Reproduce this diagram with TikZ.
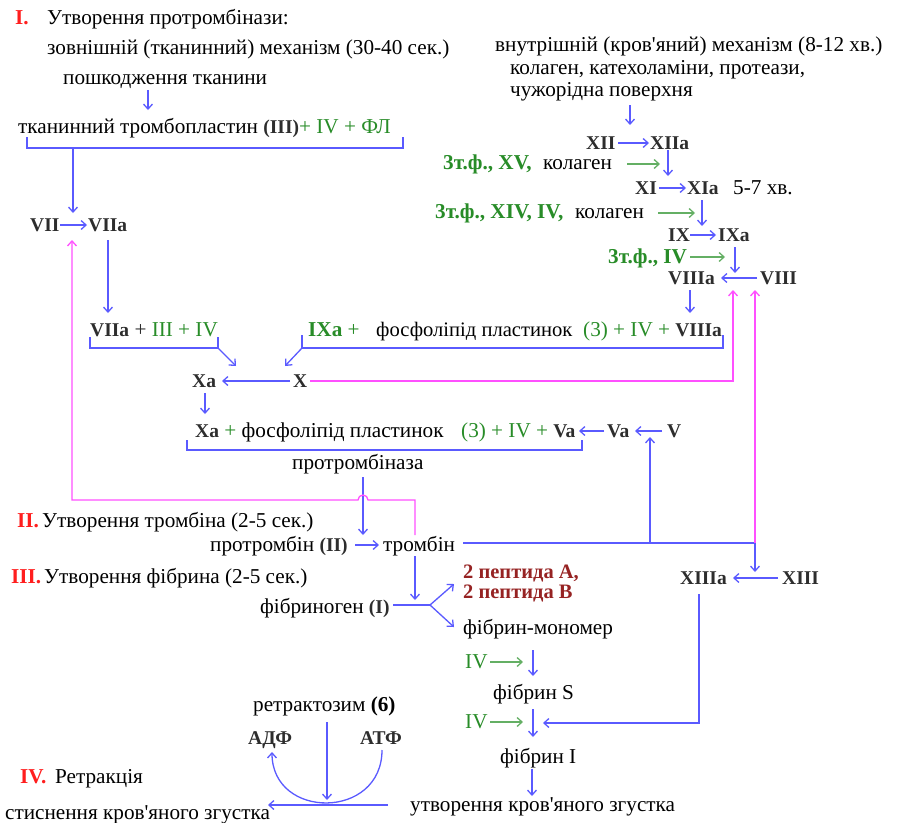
\documentclass[tikz,border=0pt]{standalone}
\usepackage{fontspec}
\setmainfont{Liberation Serif}
\usetikzlibrary{arrows.meta}
\definecolor{bl}{RGB}{90,90,255}
\definecolor{pk}{RGB}{255,80,255}
\definecolor{gn}{RGB}{40,140,40}
\definecolor{gna}{RGB}{100,175,100}
\definecolor{rd}{RGB}{255,30,30}
\definecolor{drd}{RGB}{150,35,35}
\definecolor{dg}{RGB}{45,45,45}
\newcommand{\rn}[1]{{\fontsize{19.5}{22}\selectfont\textbf{\textcolor{dg}{#1}}}}
\newcommand{\gr}[1]{\textcolor{gn}{#1}}
\newcommand{\gb}[1]{\textcolor{gn}{\textbf{#1}}}
\newcommand{\ap}{\textquotesingle}
\begin{document}
\begin{tikzpicture}[x=1pt,y=-1pt,
 tx/.style={anchor=base west, inner sep=0pt, font=\fontsize{21.2}{24}\selectfont},
 ba/.style={draw=bl, line width=1.3pt, -{Straight Barb[length=5pt,width=9pt]}},
 bline/.style={draw=bl, line width=1.3pt},
 pa/.style={draw=pk, line width=1.3pt, -{Straight Barb[length=5pt,width=9pt]}},
 pline/.style={draw=pk, line width=1.3pt},
 ga/.style={draw=gna, line width=1.3pt, -{Straight Barb[length=5pt,width=9pt]}},
]
\useasboundingbox (0,0) rectangle (902,822);
% ---------- stage I, extrinsic
\node[tx] (sI) at (15,24) {\textcolor{rd}{\textbf{I.}}};
\node[tx] (tI) at (47,24) {Утворення протромбінази:};
\node[tx] (ext) at (47,54) {зовнішній (тканинний) механізм (30-40 сек.)};
\node[tx] (dmg) at (63,84) {пошкодження тканини};
\node[tx] (tpl) at (18,133) {тканинний тромбопластин \rn{(III)}\gr{ + IV + ФЛ}};
\coordinate (d1) at (148,90); \coordinate (d2) at (148,110);
\draw[ba] (d1) -- (d2);
\coordinate (b1) at (27,137); \coordinate (b2) at (403,137);
\draw[bline] (b1) -- (27,148) -- (403,148) -- (b2);
\coordinate (s1) at (73,148); \coordinate (s2) at (73,213);
\draw[ba] (s1) -- (s2);
\node[tx] (VII) at (30,231) {\rn{VII}};
\node[tx] (VIIa) at (88,231) {\rn{VIIa}};
\draw[ba] (60,225) -- (87,225);
\coordinate (v1) at (108,240); \coordinate (v2) at (108,313);
\draw[ba] (v1) -- (v2);
% ---------- complexes
\node[tx] (c7) at (90,336) {\rn{VIIa} \textcolor{dg}{+} \gr{III + IV}};
\draw[bline] (90,337) -- (90,348) -- (218,348) -- (218,337);
\coordinate (c7a) at (218,348); \coordinate (c7b) at (236,366);
\draw[ba] (c7a) -- (c7b);
\node[tx] (c9a) at (308,336) {\gb{IXa} \gr{+}};
\node[tx, font=\fontsize{20.6}{24}\selectfont] (c9b) at (376,336) {фосфоліпід пластинок};
\node[tx] (c9c) at (583,336) {\gr{(3) + IV +} \rn{VIIIa}};
\draw[bline] (302,335) -- (302,348) -- (723,348) -- (723,335);
\coordinate (c9x) at (302,348); \coordinate (c9y) at (285,366);
\draw[ba] (c9x) -- (c9y);
\node[tx] (Xa) at (192,387) {\rn{Xa}};
\node[tx] (X) at (293,387) {\rn{X}};
\draw[ba] (290,381) -- (222,381);
\coordinate (p8) at (733,290);
\draw[pa] (310,381) -- (733,381) -- (p8);
\coordinate (xa1) at (205,393); \coordinate (xa2) at (205,414);
\draw[ba] (xa1) -- (xa2);
\node[tx] (pxa) at (195,437) {\rn{Xa} \gr{+} фосфоліпід пластинок};
\node[tx] (pxb) at (461,437) {\gr{(3) + IV +} \rn{Va}};
\node[tx] (Va) at (607,437) {\rn{Va}};
\node[tx] (V) at (667,437) {\rn{V}};
\draw[ba] (604,431) -- (579,431);
\draw[ba] (662,431) -- (635,431);
\draw[bline] (187,440) -- (187,450) -- (582,450) -- (582,440);
\node[tx] (ptb) at (292,469) {протромбіназа};
\coordinate (pt1) at (363,477); \coordinate (pt2) at (363,535);
\draw[ba] (pt1) -- (pt2);
% pink feedback to VII (with a small jump over the blue line)
\coordinate (pv) at (72,240);
\draw[pa] (415,535) -- (415,500) -- (368,500) arc[start angle=0, end angle=180, radius=5pt] -- (72,500) -- (pv);
% ---------- stage II
\node[tx] (sII) at (17,527) {\textcolor{rd}{\textbf{II.}}};
\node[tx] (tII) at (42,527) {Утворення тромбіна (2-5 сек.)};
\node[tx] (prt) at (210,551) {протромбін \rn{(II)}};
\node[tx] (thr) at (383,551) {тромбін};
\draw[ba] (355,545) -- (379,545);
% ---------- stage III
\node[tx] (sIII) at (11,583) {\textcolor{rd}{\textbf{III.}}};
\node[tx] (tIII) at (44,583) {Утворення фібрина (2-5 сек.)};
\coordinate (t1) at (463,543); \coordinate (t2) at (755,543); \coordinate (t3) at (650,543);
\draw[bline] (t1) -- (t2);
\draw[ba] (t3) -- (650,437);
\draw[pa] (t2) -- (755,290);
\draw[ba] (t2) -- (755,572);
\draw[ba] (415,556) -- (415,600);
\node[tx] (fbg) at (260,613) {фібриноген \rn{(I)}};
\coordinate (f1) at (393,605); \coordinate (f2) at (430,605);
\draw[bline] (f1) -- (f2);
\draw[ba] (f2) -- (454,584);
\draw[ba] (f2) -- (454,627);
\node[tx, font=\fontsize{20.5}{24}\selectfont] (pep1) at (463,578) {\textcolor{drd}{\textbf{2 пептида А,}}};
\node[tx, font=\fontsize{20.5}{24}\selectfont] (pep2) at (463,598) {\textcolor{drd}{\textbf{2 пептида В}}};
\node[tx] (fm) at (463,634) {фібрин-мономер};
\node[tx] (XIIIa) at (680,584) {\rn{XIIIa}};
\node[tx] (XIII) at (782,584) {\rn{XIII}};
\draw[ba] (778,578) -- (733,578);
\coordinate (x13) at (699,594);
\draw[ba] (x13) -- (699,723) -- (543,723);
\node[tx] (iv1) at (465,668) {\gr{IV}};
\draw[ga] (490,662) -- (523,662);
\draw[ba] (533,650) -- (533,676);
\node[tx] (fS) at (493,699) {фібрин S};
\node[tx] (iv2) at (465,728) {\gr{IV}};
\draw[ga] (490,722) -- (523,722);
\draw[ba] (533,709) -- (533,737);
\node[tx] (fI) at (500,763) {фібрин I};
\draw[ba] (532,769) -- (532,796);
\node[tx] (clot) at (410,811) {утворення кров\ap{}яного згустка};
% ---------- stage IV
\node[tx] (rz) at (253,711) {ретрактозим \textbf{(6)}};
\node[tx] (adp) at (248,744) {\rn{АДФ}};
\node[tx] (atp) at (360,744) {\rn{АТФ}};
\draw[ba] (327,722) -- (327,800);
\draw[ba] (382,750) .. controls (382,820) and (272,820) .. (272,752);
\draw[ba] (388,805) -- (268,805);
\node[tx] (sIV) at (20,783) {\textcolor{rd}{\textbf{IV.}}};
\node[tx] (tIV) at (55,783) {Ретракція};
\node[tx] (sq) at (5,819) {стиснення кров\ap{}яного згустка};
% ---------- intrinsic
\node[tx] (int) at (495,51) {внутрішній (кров\ap{}яний) механізм (8-12 хв.)};
\node[tx] (int2) at (510,74) {колаген, катехоламіни, протеази,};
\node[tx] (int3) at (510,96) {чужорідна поверхня};
\draw[ba] (630,105) -- (630,125);
\node[tx] (XII) at (586,149) {\rn{XII}};
\node[tx] (XIIa) at (650,149) {\rn{XIIa}};
\draw[ba] (618,143) -- (649,143);
\node[tx] (g1) at (443,169) {\gb{3т.ф., XV,}};
\node[tx] (k1) at (543,169) {колаген};
\draw[ga] (627,164) -- (660,164);
\draw[ba] (668,150) -- (668,176);
\node[tx] (XI) at (635,194) {\rn{XI}};
\node[tx] (XIa) at (687,194) {\rn{XIa}};
\draw[ba] (659,188) -- (686,188);
\node[tx] (m57) at (733,194) {5-7 хв.};
\node[tx] (g2) at (435,218) {\gb{3т.ф., XIV, IV,}};
\node[tx] (k2) at (575,218) {колаген};
\draw[ga] (658,213) -- (695,213);
\draw[ba] (702,200) -- (702,226);
\node[tx] (IX) at (668,241) {\rn{IX}};
\node[tx] (IXa) at (718,241) {\rn{IXa}};
\draw[ba] (690,235) -- (716,235);
\node[tx] (g3) at (608,263) {\gb{3т.ф., IV}};
\draw[ga] (690,257) -- (725,257);
\draw[ba] (735,247) -- (735,273);
\node[tx] (VIIIa) at (668,284) {\rn{VIIIa}};
\node[tx] (VIII) at (760,284) {\rn{VIII}};
\draw[ba] (757,278) -- (721,278);
\draw[ba] (690,290) -- (690,313);
\end{tikzpicture}
\end{document}
